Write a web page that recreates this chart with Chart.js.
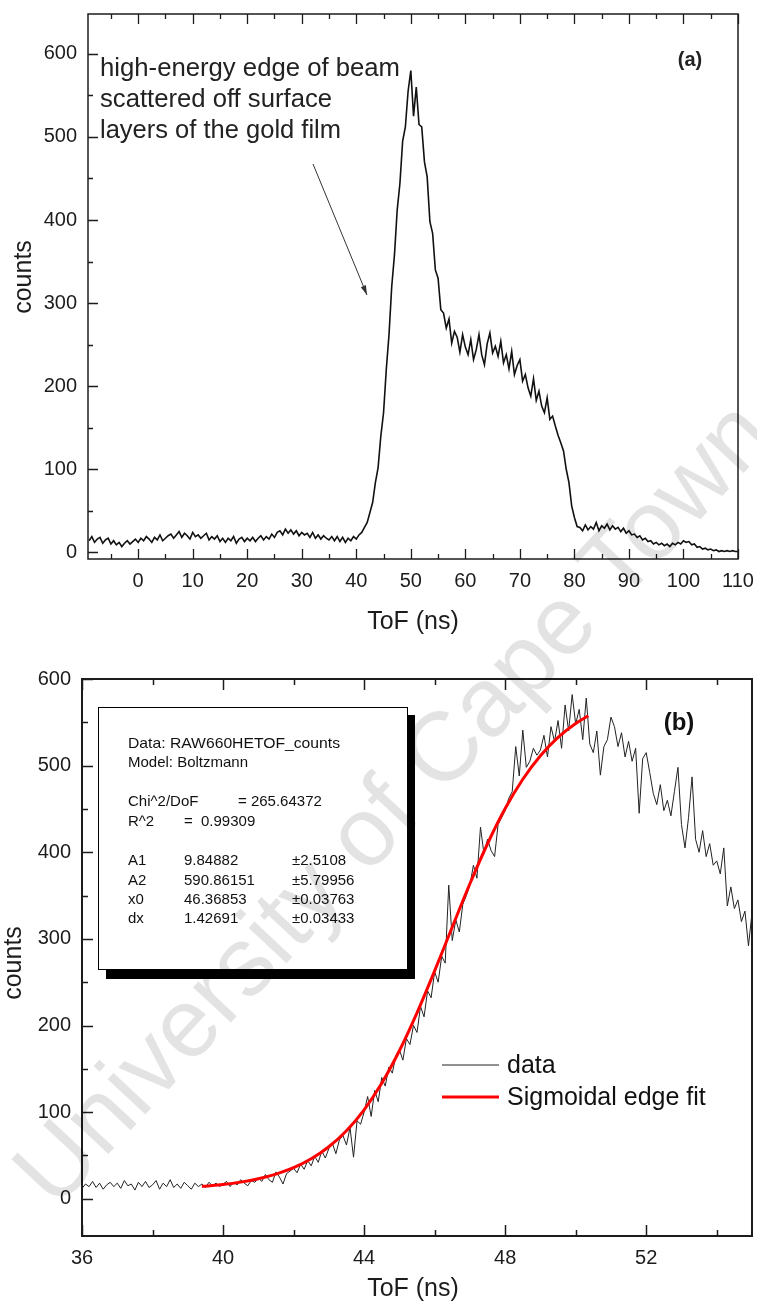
<!DOCTYPE html>
<html>
<head>
<meta charset="utf-8">
<script src="https://cdn.jsdelivr.net/npm/chart.js@4.4.1/dist/chart.umd.min.js"></script>
<style>
  html, body { margin: 0; padding: 0; background: #fff; }
  #wrap { position: relative; width: 757px; height: 1304px; overflow: hidden; }
  #chartA { position: absolute; left: 0; top: 0; }
  #chartB { position: absolute; left: 0; top: 655px; }
  #mark { position: absolute; left: 0; top: 0; pointer-events: none; }
</style>
</head>
<body>
<div id="wrap">
  <canvas id="chartA" width="757" height="655"></canvas>
  <canvas id="chartB" width="757" height="649"></canvas>
  <canvas id="mark" width="757" height="1304"></canvas>
</div>
<script>
/* ---------- (a) full spectrum, sampled every 0.5 ns from -9 ns ---------- */
const topStart = -9, topStep = 0.5;
const topCounts = [
  14, 19, 12, 16, 18, 11, 15, 17, 10, 14,
  9, 12, 7, 11, 14, 10, 13, 16, 12, 17,
  14, 19, 16, 12, 18, 15, 21, 14, 17, 20,
  22, 17, 21, 25, 18, 23, 20, 16, 24, 19,
  21, 17, 20, 23, 15, 19, 16, 20, 13, 17,
  12, 17, 14, 19, 11, 16, 18, 13, 17, 14,
  18, 13, 17, 20, 15, 19, 16, 22, 18, 24,
  26, 21, 28, 23, 27, 22, 26, 20, 24, 21,
  23, 18, 24, 17, 21, 16, 20, 17, 15, 19,
  14, 19, 13, 18, 12, 17, 14, 19, 16, 21,
  24, 30, 36, 48, 60, 84, 102, 140, 168, 220,
  262, 320, 358, 412, 444, 495, 512, 555, 580, 525,
  560, 515, 512, 470, 452, 398, 384, 340, 330, 292,
  288, 270, 281, 252, 266, 259, 241, 262, 247, 238,
  256, 232, 244, 262, 238, 226, 251, 264, 240, 248,
  236, 254, 228, 238, 221, 242, 214, 225, 232, 206,
  214, 198, 188, 209, 183, 194, 176, 168, 186, 160,
  164, 152, 141, 132, 122, 100, 84, 56, 42, 31,
  30, 26, 33, 27, 31, 28, 36, 26, 32, 29,
  34, 27, 32, 28, 30, 25, 29, 23, 26, 21,
  22, 18, 20, 15, 17, 13, 14, 10, 12, 9,
  11, 8, 10, 7, 11, 9, 12, 10, 14, 12,
  13, 9, 10, 6, 7, 4, 5, 3, 4, 2,
  3, 1, 2, 1, 2, 1, 2, 1, 1
];
const topXTicks = [0, 10, 20, 30, 40, 50, 60, 70, 80, 90, 100, 110];
const topXMinor = [-5, 5, 15, 25, 35, 45, 55, 65, 75, 85, 95, 105];
const topYTicks = [0, 100, 200, 300, 400, 500, 600];
const topYMinor = [50, 150, 250, 350, 450, 550];

/* ---------- (b) leading edge, sampled every 0.1 ns from 36 ns ---------- */
const edgeStart = 36, edgeStep = 0.1;
const edgeCounts = [
  12, 17, 14, 20, 13, 18, 11, 16, 19, 14,
  18, 12, 21, 15, 17, 10, 19, 14, 20, 13,
  16, 21, 11, 18, 14, 22, 13, 17, 12, 19,
  15, 11, 18, 14, 17, 13, 19, 15, 18, 14,
  17, 20, 14, 19, 16, 22, 18, 15, 21, 19,
  24, 20, 28, 22, 19, 31, 25, 17, 29, 32,
  35, 30, 40, 34, 44, 38, 49, 42, 55, 47,
  58, 64, 52, 68, 73, 62, 82, 48, 90, 86,
  100, 118, 95, 125, 112, 140, 130, 152, 145, 165,
  172, 160, 185, 178, 200, 192, 222, 210, 240, 232,
  262, 250, 280, 272, 362, 298, 322, 308, 340, 350,
  362, 385, 370, 429, 398, 415, 402, 395, 432, 440,
  448, 462, 470, 522, 488, 541, 498, 505, 520, 512,
  518, 535, 510, 545, 528, 552, 520, 570, 540, 582,
  548, 565, 530, 578, 525, 515, 540, 489, 522, 530,
  556, 545, 522, 538, 510, 528, 505, 520, 445, 508,
  515, 492, 468, 455, 478, 448, 460, 442, 470, 498,
  432, 405, 440, 487, 415, 400, 425, 395, 410, 385,
  390, 375, 405, 338, 360, 335, 345, 320, 332, 292,
  330
];
const fitX = [39.4, 39.5, 40, 40.5, 41, 41.5, 42, 42.5, 43, 43.5, 44, 44.5, 45, 45.5,
  46, 46.5, 47, 47.5, 48, 48.5, 49, 49.5, 50, 50.36];
const fitCounts = [14.2, 14.5, 16.5, 19.2, 23.0, 28.4, 35.8, 46.1, 60.0, 78.5, 102.7, 133.3,
  170.8, 214.6, 263.0, 313.7, 363.6, 409.8, 450.4, 484.3, 511.5, 532.6, 548.6, 557.5];
const edgeXTicks = [36, 40, 44, 48, 52];
const edgeXMinor = [38, 42, 46, 50, 54];
const edgeYTicks = [0, 100, 200, 300, 400, 500, 600];
const edgeYMinor = [50, 150, 250, 350, 450, 550];

const fitText = ['Data: RAW660HETOF_counts', 'Model: Boltzmann'];
const fitParams = [['A1', '9.84882', '\u00b12.5108'], ['A2', '590.86151', '\u00b15.79956'],
  ['x0', '46.36853', '\u00b10.03763'], ['dx', '1.42691', '\u00b10.03433']];

const FONT = '"Liberation Sans", Arial, Helvetica, sans-serif';
const INK = '#1c1c1c';

function fitTextAt(ctx, text, x, y, w) {
  const m = ctx.measureText(text).width;
  ctx.save();
  ctx.translate(x, y);
  if (w) ctx.scale(w / m, 1);
  ctx.fillText(text, 0, 0);
  ctx.restore();
}

// frame + inward ticks on bottom, top and left
const frame = {
  id: 'frame',
  afterDraw(chart, args, o) {
    const { ctx, chartArea: a, scales: { x, y } } = chart;
    ctx.save();
    ctx.strokeStyle = INK;
    ctx.lineWidth = o.lw;
    ctx.strokeRect(a.left, a.top, a.right - a.left, a.bottom - a.top);
    ctx.lineWidth = o.tw;
    ctx.beginPath();
    const xt = (vals, len) => vals.forEach(v => {
      const px = Math.round(x.getPixelForValue(v)) + 0.5;
      ctx.moveTo(px, a.bottom); ctx.lineTo(px, a.bottom - len);
      ctx.moveTo(px, a.top); ctx.lineTo(px, a.top + len);
    });
    const yt = (vals, len) => vals.forEach(v => {
      const py = Math.round(y.getPixelForValue(v)) + 0.5;
      ctx.moveTo(a.left, py); ctx.lineTo(a.left + len, py);
    });
    xt(o.xMajor, o.major); xt(o.xMinor, o.minor);
    yt(o.yMajor, o.major); yt(o.yMinor, o.minor);
    ctx.stroke();

    ctx.fillStyle = INK;
    ctx.font = `${o.titleSize}px ${FONT}`;
    ctx.textAlign = 'center';
    ctx.textBaseline = 'middle';
    ctx.fillText('ToF (ns)', o.xTitle[0], o.xTitle[1]);
    ctx.save();
    ctx.translate(o.yTitle[0], o.yTitle[1]);
    ctx.rotate(-Math.PI / 2);
    ctx.fillText('counts', 0, 0);
    ctx.restore();
    ctx.restore();
  }
};

const notesA = {
  id: 'notesA',
  afterDraw(chart) {
    const ctx = chart.ctx;
    ctx.save();
    ctx.fillStyle = '#222';
    ctx.textBaseline = 'middle';
    ctx.textAlign = 'left';
    ctx.font = `25px ${FONT}`;
    fitTextAt(ctx, 'high-energy edge of beam', 100, 69, 300);
    fitTextAt(ctx, 'scattered off surface', 100, 100, 232);
    fitTextAt(ctx, 'layers of the gold film', 100, 131, 241);
    ctx.font = `bold 20px ${FONT}`;
    ctx.textAlign = 'center';
    ctx.fillText('(a)', 690, 60);
    // arrow
    const x0 = 313, y0 = 164, x1 = 367, y1 = 295;
    const ang = Math.atan2(y1 - y0, x1 - x0);
    ctx.strokeStyle = '#333';
    ctx.lineWidth = 1;
    ctx.beginPath(); ctx.moveTo(x0, y0); ctx.lineTo(x1, y1); ctx.stroke();
    ctx.beginPath();
    ctx.moveTo(x1, y1);
    ctx.lineTo(x1 - 10 * Math.cos(ang - 0.28), y1 - 10 * Math.sin(ang - 0.28));
    ctx.lineTo(x1 - 10 * Math.cos(ang + 0.28), y1 - 10 * Math.sin(ang + 0.28));
    ctx.closePath();
    ctx.fillStyle = '#333';
    ctx.fill();
    ctx.restore();
  }
};

const notesB = {
  id: 'notesB',
  afterDraw(chart) {
    const ctx = chart.ctx;
    const bx = 98, by = 52, bw = 309, bh = 262;
    ctx.save();
    ctx.fillStyle = '#000';
    ctx.fillRect(bx + 8, by + 8, bw, bh + 2);
    ctx.fillStyle = '#fff';
    ctx.fillRect(bx, by, bw, bh);
    ctx.strokeStyle = '#000';
    ctx.lineWidth = 1;
    ctx.strokeRect(bx + 0.5, by + 0.5, bw, bh);

    ctx.fillStyle = '#111';
    ctx.textBaseline = 'middle';
    ctx.textAlign = 'left';
    ctx.font = `15px ${FONT}`;
    fitTextAt(ctx, fitText[0], 128, 89, 212);
    fitTextAt(ctx, fitText[1], 128, 108);
    fitTextAt(ctx, 'Chi^2/DoF', 128, 147);
    fitTextAt(ctx, '= 265.64372', 238, 147);
    fitTextAt(ctx, 'R^2', 128, 167);
    fitTextAt(ctx, '=', 184, 167);
    fitTextAt(ctx, '0.99309', 201, 167);
    fitParams.forEach((p, i) => {
      const yy = 206 + i * 19.4;
      fitTextAt(ctx, p[0], 128, yy);
      fitTextAt(ctx, p[1], 184, yy);
      fitTextAt(ctx, p[2], 292, yy);
    });

    ctx.font = `bold 24px ${FONT}`;
    ctx.textAlign = 'center';
    ctx.fillText('(b)', 679, 68);

    // legend
    const ds = chart.data.datasets;
    ctx.textAlign = 'left';
    ctx.font = `25px ${FONT}`;
    [[ds[1], 410], [ds[0], 442]].forEach(([d, yy]) => {
      ctx.strokeStyle = d.borderColor;
      ctx.lineWidth = d.borderWidth;
      ctx.beginPath(); ctx.moveTo(442, yy); ctx.lineTo(499, yy); ctx.stroke();
      ctx.fillStyle = '#111';
      ctx.fillText(d.label, 507, yy + 1);
    });
    ctx.restore();
  }
};

function axes(xr, yr, xTicks, yTicks, yWidth, xHeight, tickSize) {
  const font = { family: FONT, size: tickSize };
  return {
    x: {
      type: 'linear', min: xr[0], max: xr[1],
      afterBuildTicks: s => { s.ticks = xTicks.map(v => ({ value: v })); },
      afterFit: s => { s.height = xHeight; s.paddingLeft = 0; s.paddingRight = 0; },
      grid: { display: false, drawTicks: false },
      border: { display: false },
      ticks: { font, color: INK, padding: 10, autoSkip: false, maxRotation: 0 }
    },
    y: {
      type: 'linear', min: yr[0], max: yr[1],
      afterBuildTicks: s => { s.ticks = yTicks.map(v => ({ value: v })); },
      afterFit: s => { s.width = yWidth; s.paddingTop = 0; s.paddingBottom = 0; },
      grid: { display: false, drawTicks: false },
      border: { display: false },
      ticks: { font, color: INK, padding: 11, autoSkip: false }
    }
  };
}

new Chart(document.getElementById('chartA'), {
  type: 'line',
  data: {
    datasets: [{
      label: 'data',
      data: topCounts.map((c, i) => ({ x: topStart + i * topStep, y: c })),
      borderColor: '#111', borderWidth: 1.6, pointRadius: 0, tension: 0
    }]
  },
  options: {
    responsive: false, animation: false,
    layout: { padding: { top: 14, right: 19, left: 0, bottom: 0 } },
    plugins: {
      legend: { display: false }, tooltip: { enabled: false },
      frame: { lw: 1.5, tw: 1.3, major: 10, minor: 5, xMajor: topXTicks, xMinor: topXMinor,
        yMajor: topYTicks, yMinor: topYMinor, titleSize: 25, xTitle: [413, 622], yTitle: [24, 277] }
    },
    scales: axes([-9.2, 110], [-8, 648], topXTicks, topYTicks, 88, 96, 20)
  },
  plugins: [frame, notesA]
});

new Chart(document.getElementById('chartB'), {
  type: 'line',
  data: {
    datasets: [{
      label: 'Sigmoidal edge fit',
      data: fitX.map((x, i) => ({ x, y: fitCounts[i] })),
      borderColor: '#ff0000', borderWidth: 3, pointRadius: 0, cubicInterpolationMode: 'monotone', order: 0
    }, {
      label: 'data',
      data: edgeCounts.map((c, i) => ({ x: edgeStart + i * edgeStep, y: c })),
      borderColor: '#222', borderWidth: 1, pointRadius: 0, tension: 0, order: 1
    }]
  },
  options: {
    responsive: false, animation: false,
    layout: { padding: { top: 24, right: 5, left: 0, bottom: 0 } },
    plugins: {
      legend: { display: false }, tooltip: { enabled: false },
      frame: { lw: 2, tw: 1.5, major: 11, minor: 6, xMajor: edgeXTicks, xMinor: edgeXMinor,
        yMajor: edgeYTicks, yMinor: edgeYMinor, titleSize: 25, xTitle: [413, 634], yTitle: [14, 308] }
    },
    scales: axes([36, 55], [-43, 600], edgeXTicks, edgeYTicks, 82, 68, 20)
  },
  plugins: [frame, notesB]
});

// watermark across both panels
const mk = document.getElementById('mark').getContext('2d');
mk.save();
mk.translate(396, 806);
mk.rotate(-47 * Math.PI / 180);
mk.font = `98px ${FONT}`;
mk.fillStyle = 'rgba(0,0,0,0.11)';
mk.textAlign = 'center';
mk.textBaseline = 'middle';
mk.fillText('University of Cape Town', 0, 0);
mk.restore();
</script>
</body>
</html>
